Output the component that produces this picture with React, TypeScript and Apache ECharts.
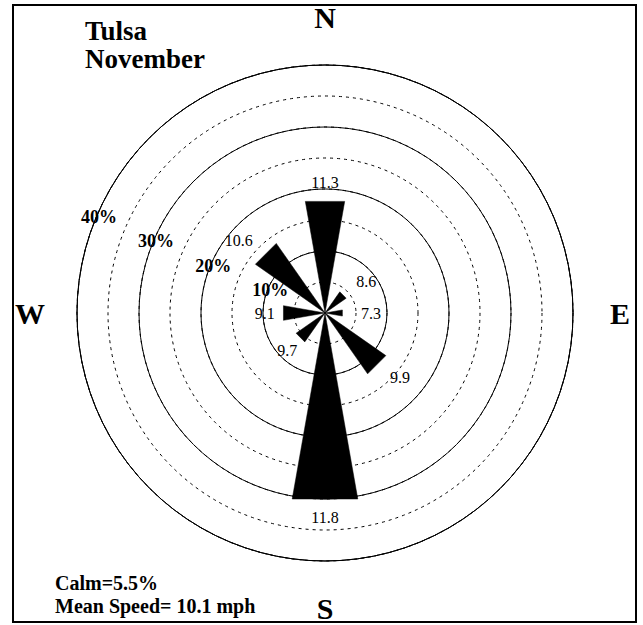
import React, { useEffect, useRef } from "react";
import * as echarts from "echarts";

// ---- data ----
const DIRECTIONS = ["N", "NE", "E", "SE", "S", "SW", "W", "NW"];
const DIRECTION_ANGLES = [0, 45, 90, 135, 180, 225, 270, 315];
const FREQUENCY_PCT = [18, 4.1, 2.8, 11.8, 30, 5.6, 6.7, 13.5];
const MEAN_SPEED_MPH = [11.3, 8.6, 7.3, 9.9, 11.8, 9.7, 9.1, 10.6];
const RING_VALUES = [10, 20, 30, 40];
const COMPASS_LABELS = ["N", "E", "S", "W"];
const COMPASS_ANGLES = [0, 90, 180, 270];
const TITLE_LINES = ["Tulsa", "November"];
const CALM_PCT = 5.5;
const MEAN_SPEED_ALL = 10.1;

// ---- style ----
const SERIF = '"Liberation Serif", "Times New Roman", serif';
const CX = 325;
const CY = 313;
const R = 248;
const HALF_WEDGE = 10; // degrees
const LABEL_ALIGN: Record<string, string> = { NE: "left", E: "left", SE: "left", NW: "right" };

export default function App() {
  const ref = useRef<HTMLDivElement>(null);
  useEffect(() => {
    if (!ref.current) return;
    const chart = echarts.init(ref.current, null, { renderer: "svg" });

    const wedgeData = DIRECTIONS.map((d, i) => [FREQUENCY_PCT[i], DIRECTION_ANGLES[i], MEAN_SPEED_MPH[i], i]);
    const compassData = COMPASS_LABELS.map((c, i) => [47.6, COMPASS_ANGLES[i], i]);
    const ringData = RING_VALUES.map((v) => [v - 0.4, 293, v]);

    const angleAxisBase = {
      type: "value",
      min: 0,
      max: 360,
      startAngle: 90,
      clockwise: true,
      axisLabel: { show: false },
      axisTick: { show: false },
      splitLine: { show: false },
    };

    const option: any = {
      animation: false,
      backgroundColor: "#fff",
      polar: [
        { center: [CX, CY], radius: R },
        { center: [CX, CY], radius: R },
      ],
      angleAxis: [
        { ...angleAxisBase, polarIndex: 0, axisLine: { show: true, lineStyle: { color: "#000", width: 1 } } },
        { ...angleAxisBase, polarIndex: 1, axisLine: { show: false } },
      ],
      radiusAxis: [
        {
          polarIndex: 0,
          type: "value",
          min: 0,
          max: 40,
          interval: 10,
          z: 3,
          axisLine: { show: false },
          axisTick: { show: false },
          axisLabel: { show: false },
          splitLine: { show: true, lineStyle: { color: "#000", width: 1, type: "solid" } },
        },
        {
          polarIndex: 1,
          type: "value",
          min: 0,
          max: 40,
          interval: 5,
          z: 1,
          axisLine: { show: false },
          axisTick: { show: false },
          axisLabel: { show: false },
          splitLine: { show: true, lineStyle: { color: "#000", width: 1, type: [3, 4] } },
        },
      ],
      series: [
        {
          type: "custom",
          coordinateSystem: "polar",
          polarIndex: 0,
          z: 5,
          data: wedgeData,
          renderItem: (params: any, api: any) => {
            const r = api.value(0);
            const a = api.value(1);
            const speed = api.value(2);
            const dir = DIRECTIONS[api.value(3)];
            const rc = r / Math.cos((HALF_WEDGE * Math.PI) / 180);
            const p0 = api.coord([0, a]);
            const p1 = api.coord([rc, a - HALF_WEDGE]);
            const p2 = api.coord([rc, a + HALF_WEDGE]);
            const lp = api.coord([r + 3, a]);
            return {
              type: "group",
              children: [
                {
                  type: "polygon",
                  shape: { points: [p0, p1, p2] },
                  style: { fill: "#000", stroke: "#000", lineWidth: 0.5 },
                },
                {
                  type: "text",
                  x: lp[0],
                  y: lp[1],
                  style: {
                    text: speed.toFixed(1),
                    fill: "#000",
                    font: `16px ${SERIF}`,
                    align: LABEL_ALIGN[dir] || "center",
                    verticalAlign: "middle",
                  },
                },
              ],
            };
          },
        },
        {
          type: "custom",
          coordinateSystem: "polar",
          polarIndex: 0,
          z: 6,
          data: ringData,
          renderItem: (params: any, api: any) => {
            const p = api.coord([api.value(0), api.value(1)]);
            return {
              type: "text",
              x: p[0],
              y: p[1],
              style: {
                text: `${api.value(2)}%`,
                fill: "#000",
                font: `bold 18px ${SERIF}`,
                align: "center",
                verticalAlign: "middle",
              },
            };
          },
        },
        {
          type: "custom",
          coordinateSystem: "polar",
          polarIndex: 0,
          z: 6,
          data: compassData,
          renderItem: (params: any, api: any) => {
            const p = api.coord([api.value(0), api.value(1)]);
            return {
              type: "text",
              x: p[0],
              y: p[1],
              style: {
                text: COMPASS_LABELS[api.value(2)],
                fill: "#000",
                font: `bold 30px ${SERIF}`,
                align: "center",
                verticalAlign: "middle",
              },
            };
          },
        },
      ],
      graphic: [
        {
          type: "rect",
          shape: { x: 13, y: 5, width: 623, height: 617 },
          style: { fill: "none", stroke: "#000", lineWidth: 2 },
          z: 10,
        },
        {
          type: "text",
          x: 85,
          y: 31,
          style: { text: TITLE_LINES[0], fill: "#000", font: `bold 27px ${SERIF}`, align: "left", verticalAlign: "middle" },
        },
        {
          type: "text",
          x: 85,
          y: 59,
          style: { text: TITLE_LINES[1], fill: "#000", font: `bold 27px ${SERIF}`, align: "left", verticalAlign: "middle" },
        },
        {
          type: "text",
          x: 55,
          y: 583,
          style: { text: `Calm=${CALM_PCT}%`, fill: "#000", font: `bold 20px ${SERIF}`, align: "left", verticalAlign: "middle" },
        },
        {
          type: "text",
          x: 55,
          y: 606,
          style: {
            text: `Mean Speed= ${MEAN_SPEED_ALL} mph`,
            fill: "#000",
            font: `bold 20px ${SERIF}`,
            align: "left",
            verticalAlign: "middle",
          },
        },
      ],
    };
    chart.setOption(option);
    return () => chart.dispose();
  }, []);
  return <div ref={ref} style={{ position: "fixed", left: 0, top: 0, width: 643, height: 625 }} />;
}
